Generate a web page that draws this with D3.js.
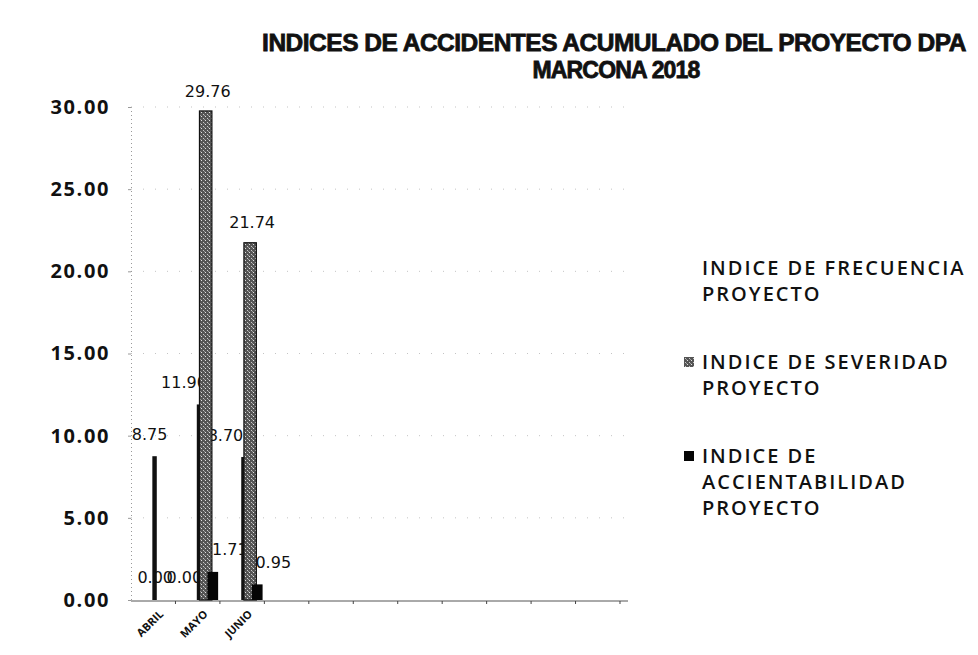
<!DOCTYPE html>
<html>
<head>
<meta charset="utf-8">
<script src="https://cdn.jsdelivr.net/npm/d3@7"></script>
<style>
  body { margin: 0; background: #fff; }
  text { fill: #111; }
</style>
</head>
<body>
<svg width="978" height="655"></svg>
<script>
const svg = d3.select("svg");

// data
const months = ["ABRIL", "MAYO", "JUNIO", "JULIO", "AGOSTO", "SETIEMBRE",
  "OCTUBRE", "NOVIEMBRE", "DICIEMBRE", "ENERO", "FEBRERO"];
const frecuencia = [8.75, 11.90, 8.70];
const severidad = [0.00, 29.76, 21.74];
const accidentabilidad = [0.00, 1.71, 0.95];
const yTicks = [0, 5, 10, 15, 20, 25, 30];
const titleLines = ["INDICES DE ACCIDENTES ACUMULADO DEL PROYECTO DPA", "MARCONA 2018"];

const plotLeft = 131, plotRight = 620, plotTop = 107, plotBottom = 600;

const x = d3.scaleBand().domain(months).range([plotLeft, plotRight]);
const y = d3.scaleLinear().domain([0, 30]).range([plotBottom, plotTop]);
const bw = x.bandwidth();

// speckled fill for severidad
const defs = svg.append("defs");
const pat = defs.append("pattern").attr("id", "sev")
  .attr("width", 4).attr("height", 4).attr("patternUnits", "userSpaceOnUse");
pat.append("rect").attr("width", 4).attr("height", 4).attr("fill", "#555");
pat.append("rect").attr("x", 1).attr("y", 0).attr("width", 1).attr("height", 1).attr("fill", "#e0e0e0");
pat.append("rect").attr("x", 3).attr("y", 2).attr("width", 1).attr("height", 1).attr("fill", "#c8c8c8");
pat.append("rect").attr("x", 0).attr("y", 3).attr("width", 1).attr("height", 1).attr("fill", "#999");

// faint dotted gridlines
svg.append("g").selectAll("line").data(yTicks.slice(1)).join("line")
  .attr("x1", plotLeft).attr("x2", 630)
  .attr("y1", d => y(d)).attr("y2", d => y(d))
  .attr("stroke", "#aaa").attr("stroke-width", 0.7)
  .attr("stroke-dasharray", "1 11");

// y axis
const yAxis = svg.append("g")
  .attr("transform", `translate(${plotLeft},0)`)
  .call(d3.axisLeft(y).tickValues(yTicks).tickFormat(d3.format(".2f")).tickSize(3).tickPadding(18));
yAxis.select(".domain").attr("stroke", "#999").attr("stroke-dasharray", "1 3");
yAxis.selectAll(".tick line").attr("stroke", "#999");
yAxis.selectAll("text")
  .attr("font-family", "Open Sans, sans-serif")
  .attr("font-size", 20).attr("font-weight", 700)
  .attr("letter-spacing", 1.6).attr("fill", "#111");

// x axis
const xAxis = svg.append("g")
  .attr("transform", `translate(0,${plotBottom + 1})`)
  .call(d3.axisBottom(x).tickSize(0).tickFormat((d, i) => i < frecuencia.length ? d : ""));
xAxis.select(".domain").attr("stroke", "#555").attr("stroke-width", 1)
  .attr("d", `M${plotLeft},0H628`);
xAxis.selectAll(".tick").append("line")
  .attr("x1", bw / 2).attr("x2", bw / 2).attr("y1", 0).attr("y2", 3).attr("stroke", "#444");
xAxis.selectAll("text")
  .attr("font-family", "Open Sans, sans-serif")
  .attr("font-size", 11).attr("font-weight", 700)
  .attr("text-anchor", "end")
  .attr("transform", "translate(6,9) rotate(-45)")
  .attr("dy", "0.35em");

// series: bar position inside the band, label offsets (dx from bar centre, dy from bar top)
const series = [
  {values: frecuencia, x0: 0.48, x1: 0.58, fill: "#111", dx: [-5, -15, -18], dy: -22},
  {values: severidad, x0: 0.54, x1: 0.82, fill: "url(#sev)", dx: [-6, 2, 2], dy: -20},
  {values: accidentabilidad, x0: 0.72, x1: 0.96, fill: "#050505", dx: [16, 17, 16], dy: -22}
];
const fmt = d3.format(".2f");

// labels first, bars drawn over them like in the original
series.forEach(s => {
  svg.append("g").selectAll("text").data(s.values).join("text")
    .attr("x", (d, i) => x(months[i]) + (s.x0 + s.x1) / 2 * bw + s.dx[i])
    .attr("y", (d, i) => y(d) + (d === 0 ? -23 : s.dy))
    .attr("dy", "0.35em")
    .attr("text-anchor", "middle")
    .attr("font-family", "DejaVu Sans, Verdana, sans-serif")
    .attr("font-size", 16)
    .text(d => fmt(d));
});
series.forEach(s => {
  svg.append("g").selectAll("rect").data(s.values).join("rect")
    .attr("x", (d, i) => x(months[i]) + s.x0 * bw)
    .attr("width", (s.x1 - s.x0) * bw)
    .attr("y", d => y(d))
    .attr("height", d => y(0) - y(d))
    .attr("fill", s.fill)
    .attr("stroke", s.fill === "url(#sev)" ? "#111" : "none")
    .attr("stroke-width", 1.2);
});

// title
svg.append("g").selectAll("text").data(titleLines).join("text")
  .attr("x", (d, i) => i === 0 ? 614 : 616)
  .attr("y", (d, i) => i === 0 ? 51 : 78)
  .attr("text-anchor", "middle")
  .attr("font-family", "Liberation Sans, Arial, sans-serif")
  .attr("font-weight", 700)
  .attr("font-size", (d, i) => i === 0 ? 24.5 : 23)
  .attr("letter-spacing", (d, i) => i === 0 ? -0.5 : -0.8)
  .attr("stroke", "#111").attr("stroke-width", 0.8)
  .text(d => d);

// legend
const legendLines = [
  ["INDICE DE FRECUENCIA", "PROYECTO"],
  ["INDICE DE SEVERIDAD", "PROYECTO"],
  ["INDICE DE", "ACCIENTABILIDAD", "PROYECTO"]
];
const legendFill = [null, "url(#sev)", "#050505"];
const legendY = [268, 362, 456];
const lg = svg.append("g").attr("transform", "translate(702,0)");
legendLines.forEach((lines, k) => {
  if (legendFill[k]) {
    lg.append("rect").attr("x", -18).attr("y", legendY[k] - 5).attr("width", 10).attr("height", 10)
      .attr("fill", legendFill[k]);
  }
  lg.selectAll(null).data(lines).join("text")
    .attr("x", 0).attr("y", (d, j) => legendY[k] + j * 26)
    .attr("dy", "0.35em")
    .attr("font-family", "Open Sans, sans-serif")
    .attr("font-size", 20).attr("font-weight", 600)
    .attr("letter-spacing", 2)
    .text(d => d);
});
</script>
</body>
</html>
